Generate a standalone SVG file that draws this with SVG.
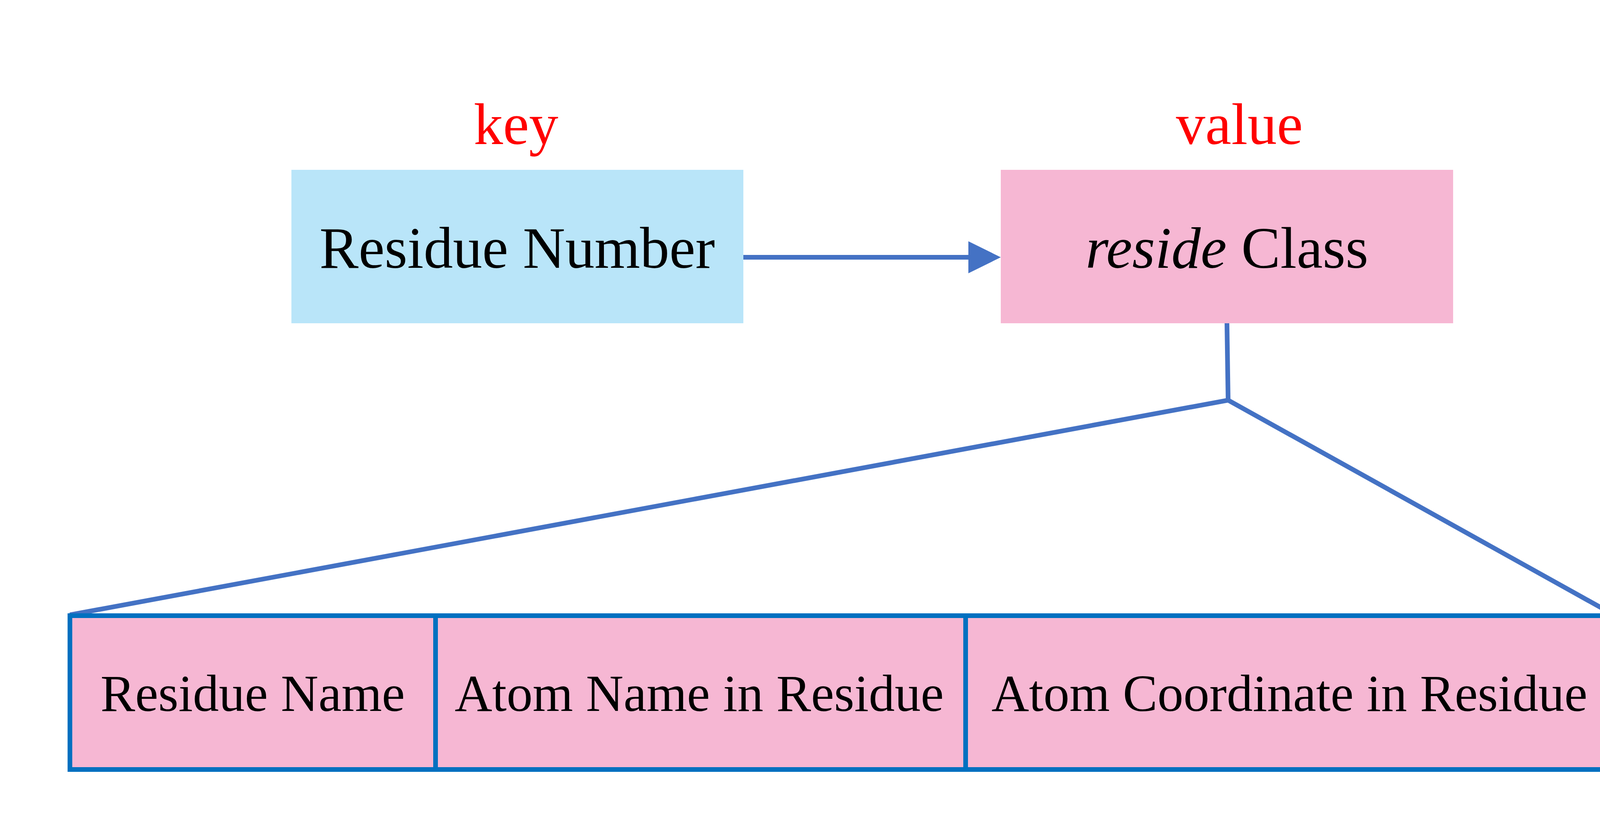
<svg xmlns="http://www.w3.org/2000/svg" width="4282" height="2085" viewBox="0 0 4282 2085">
<style>
.lbl{font-family:"Liberation Serif","Times New Roman",serif;font-size:150px;fill:#FF0000;text-anchor:middle}
.t{font-family:"Liberation Serif","Times New Roman",serif;font-size:150px;fill:#000000;text-anchor:middle}
.tc{font-family:"Liberation Serif","Times New Roman",serif;font-size:133px;fill:#000000;text-anchor:middle}
.conn{stroke:#4472C4;stroke-width:12;fill:none}
.cell{fill:#F6B7D3;stroke:#0070C0;stroke-width:12}
</style>
<defs>
<marker id="arr" markerUnits="userSpaceOnUse" markerWidth="84" markerHeight="84" refX="11" refY="41" orient="auto" overflow="visible">
<path d="M0,0 L83,41 L0,82 Z" fill="#4472C4"/>
</marker>
</defs>
<rect width="4282" height="2085" fill="#FFFFFF"/>
<text class="lbl" x="1321" y="369">key</text>
<text class="lbl" x="3173" y="369">value</text>
<g id="node-key">
<rect x="746" y="435" width="1157" height="393" fill="#B9E5F9"/>
<text class="t" x="1324" y="686">Residue Number</text>
</g>
<g id="node-value">
<rect x="2562" y="435" width="1158" height="393" fill="#F6B7D3"/>
<text class="t" x="3141" y="686"><tspan font-style="italic">reside</tspan> Class</text>
</g>
<g id="connectors">
<line class="conn" x1="1903" y1="659" x2="2490" y2="659" marker-end="url(#arr)"/>
<polyline class="conn" points="3141,828 3144,1025"/>
<polyline class="conn" points="179,1575 3144,1025 4132,1575"/>
</g>
<g id="node-residue-name">
<rect class="cell" x="179" y="1577" width="936" height="394"/>
<text class="tc" x="647" y="1821">Residue Name</text>
</g>
<g id="node-atom-name">
<rect class="cell" x="1115" y="1577" width="1357" height="394"/>
<text class="tc" x="1790" y="1821">Atom Name in Residue</text>
</g>
<g id="node-atom-coord">
<rect class="cell" x="2472" y="1577" width="1660" height="394"/>
<text class="tc" x="3301" y="1821">Atom Coordinate in Residue</text>
</g>
</svg>
